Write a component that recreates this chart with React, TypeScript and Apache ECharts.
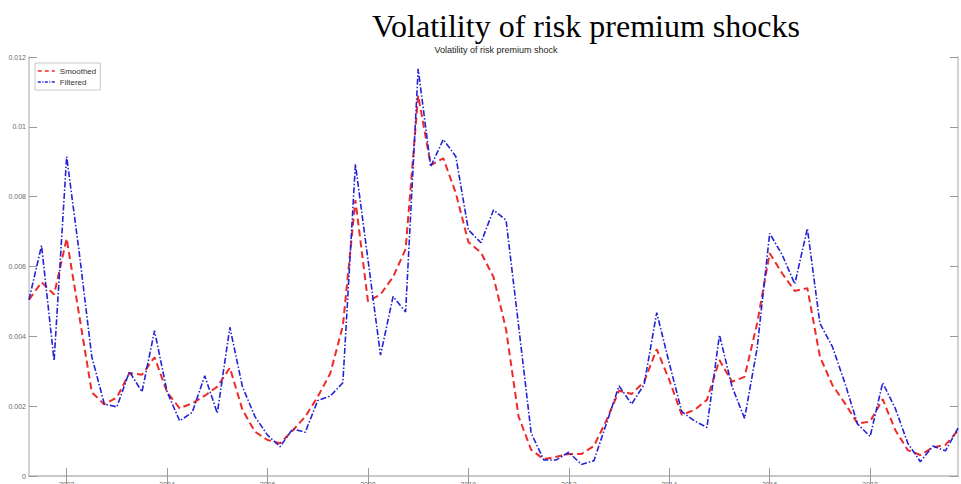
import React, { useEffect, useRef } from "react";
import * as echarts from "echarts";

// Quarterly observations, 2001Q2 .. 2019Q4
const quarters: string[] = [
  "2001Q2", "2001Q3", "2001Q4",
  "2002Q1", "2002Q2", "2002Q3", "2002Q4",
  "2003Q1", "2003Q2", "2003Q3", "2003Q4",
  "2004Q1", "2004Q2", "2004Q3", "2004Q4",
  "2005Q1", "2005Q2", "2005Q3", "2005Q4",
  "2006Q1", "2006Q2", "2006Q3", "2006Q4",
  "2007Q1", "2007Q2", "2007Q3", "2007Q4",
  "2008Q1", "2008Q2", "2008Q3", "2008Q4",
  "2009Q1", "2009Q2", "2009Q3", "2009Q4",
  "2010Q1", "2010Q2", "2010Q3", "2010Q4",
  "2011Q1", "2011Q2", "2011Q3", "2011Q4",
  "2012Q1", "2012Q2", "2012Q3", "2012Q4",
  "2013Q1", "2013Q2", "2013Q3", "2013Q4",
  "2014Q1", "2014Q2", "2014Q3", "2014Q4",
  "2015Q1", "2015Q2", "2015Q3", "2015Q4",
  "2016Q1", "2016Q2", "2016Q3", "2016Q4",
  "2017Q1", "2017Q2", "2017Q3", "2017Q4",
  "2018Q1", "2018Q2", "2018Q3", "2018Q4",
  "2019Q1", "2019Q2", "2019Q3", "2019Q4",
];

const xTickLabels: string[] = ["2002", "2004", "2006", "2008", "2010", "2012", "2014", "2016", "2018"];

const smoothed: number[] = [
  0.00505, 0.00555, 0.0052,
  0.0068, 0.0046, 0.0024, 0.00205,
  0.00225, 0.00295, 0.0029, 0.0034,
  0.0024, 0.00194, 0.00208, 0.0023,
  0.00256, 0.0031, 0.0019, 0.00127,
  0.00103, 0.00094, 0.0013, 0.0017,
  0.00227, 0.00294, 0.0043, 0.0079,
  0.0050, 0.0052, 0.0057, 0.0065,
  0.0109, 0.0089, 0.0091, 0.0081,
  0.0067, 0.0064, 0.0057, 0.0042,
  0.0017, 0.00075, 0.00048, 0.00055,
  0.00063, 0.00063, 0.00086, 0.0016,
  0.00244, 0.00235, 0.0027, 0.00363,
  0.00275, 0.00175, 0.00189, 0.00218,
  0.00332, 0.0027, 0.00284, 0.00437,
  0.00638, 0.0058, 0.0053, 0.00538,
  0.00342, 0.0026, 0.00208, 0.0015,
  0.00156, 0.0022, 0.00132, 0.00074,
  0.0006, 0.00082, 0.00089, 0.0013,
];

const filtered: number[] = [
  0.00505, 0.0066, 0.0033,
  0.00915, 0.0064, 0.00342, 0.00206,
  0.00198, 0.00299, 0.00241, 0.00416,
  0.00241, 0.00158, 0.00182, 0.00287,
  0.0018, 0.00426, 0.00256, 0.0017,
  0.00117, 0.00084, 0.00135, 0.00125,
  0.00216, 0.00229, 0.00267, 0.00893,
  0.0062, 0.00346, 0.00514, 0.0047,
  0.01166, 0.00886, 0.00964, 0.00915,
  0.00705, 0.00668, 0.00762, 0.00733,
  0.0043, 0.00123, 0.00046, 0.00046,
  0.00068, 0.00033, 0.00044, 0.00151,
  0.00258, 0.00206, 0.00262, 0.00468,
  0.00323, 0.00184, 0.00158, 0.00139,
  0.00404, 0.00256, 0.00165, 0.00366,
  0.00695, 0.00633, 0.0055, 0.00709,
  0.00437, 0.0037, 0.00265, 0.00149,
  0.00113, 0.00267, 0.00194, 0.00094,
  0.00041, 0.00086, 0.00072, 0.00137,
];

const seriesNames: string[] = ["Smoothed", "Filtered"];
const mainTitle = "Volatility of risk premium shocks";
const axesTitle = "Volatility of risk premium shock";

const isTick = (q: string) => q.endsWith("Q1") && xTickLabels.includes(q.slice(0, 4));

export default function App() {
  const ref = useRef<HTMLDivElement>(null);

  useEffect(() => {
    if (!ref.current) return;
    const chart = echarts.init(ref.current, null, { renderer: "svg" });
    const frame = "#c4c4c4";
    const tickColor = "#9a9a9a";
    const labelColor = "#6a6a6a";
    const red = "#ee2a2a";
    const blue = "#2222d8";
    const redDash = [7, 4];
    const blueDash = [6, 2, 1.5, 2];
    const xTickInterval = (index: number) => isTick(quarters[index]);

    chart.setOption({
      animation: false,
      backgroundColor: "#ffffff",
      grid: { left: 29, right: 3, top: 57, bottom: 8, containLabel: false, outerBoundsMode: "none" },
      graphic: [
        {
          type: "text",
          x: 586,
          y: 26,
          style: {
            text: mainTitle,
            font: '32px "Liberation Serif", "Times New Roman", serif',
            fill: "#000000",
            textAlign: "center",
            textVerticalAlign: "middle",
          },
        },
        {
          type: "text",
          x: 496,
          y: 50,
          style: {
            text: axesTitle,
            font: '9px "Liberation Sans", Arial, sans-serif',
            fill: "#222222",
            textAlign: "center",
            textVerticalAlign: "middle",
          },
        },
      ],
      legend: {
        data: [
          {
            name: seriesNames[0],
            itemStyle: { color: "transparent", borderColor: "transparent", opacity: 0 },
            lineStyle: { color: red, width: 1.6, type: [4, 3] },
          },
          {
            name: seriesNames[1],
            itemStyle: { color: "transparent", borderColor: "transparent", opacity: 0 },
            lineStyle: { color: blue, width: 1.4, type: [3, 1.5, 1, 1.5] },
          },
        ],
        orient: "vertical",
        left: 35,
        top: 63,
        itemWidth: 17,
        itemHeight: 8,
        itemGap: 3,
        padding: [4, 4, 4, 2],
        backgroundColor: "#ffffff",
        borderColor: "#c8c8c8",
        borderWidth: 1,
        itemStyle: { color: "transparent", borderColor: "transparent", opacity: 0 },
        textStyle: { fontSize: 8, color: "#333333", fontFamily: "Liberation Sans, Arial, sans-serif" },
      },
      xAxis: [
        {
          type: "category",
          data: quarters,
          boundaryGap: false,
          position: "bottom",
          axisLine: { show: true, lineStyle: { color: frame, width: 1.5 } },
          axisTick: { show: true, inside: true, length: 8, interval: xTickInterval, lineStyle: { color: tickColor } },
          axisLabel: {
            show: true,
            interval: xTickInterval,
            formatter: (v: string) => v.slice(0, 4),
            fontSize: 7,
            color: labelColor,
            margin: 5,
            fontFamily: "Liberation Sans, Arial, sans-serif",
          },
          splitLine: { show: false },
        },
        {
          type: "category",
          data: quarters,
          boundaryGap: false,
          position: "top",
          axisLine: { show: true, lineStyle: { color: frame, width: 1.5 } },
          axisTick: { show: true, inside: true, length: 8, interval: xTickInterval, lineStyle: { color: tickColor } },
          axisLabel: { show: false },
          splitLine: { show: false },
        },
      ],
      yAxis: [
        {
          type: "value",
          min: 0,
          max: 0.012,
          interval: 0.002,
          position: "left",
          axisLine: { show: true, lineStyle: { color: frame, width: 1.5 } },
          axisTick: { show: true, inside: true, length: 8, lineStyle: { color: tickColor } },
          axisLabel: {
            fontSize: 7,
            color: labelColor,
            margin: 3,
            fontFamily: "Liberation Sans, Arial, sans-serif",
            formatter: (v: number) => String(Number(v.toFixed(3))),
          },
          splitLine: { show: false },
        },
        {
          type: "value",
          min: 0,
          max: 0.012,
          interval: 0.002,
          position: "right",
          axisLine: { show: true, lineStyle: { color: frame, width: 1.5 } },
          axisTick: { show: true, inside: true, length: 8, lineStyle: { color: tickColor } },
          axisLabel: { show: false },
          splitLine: { show: false },
        },
      ],
      series: [
        {
          name: seriesNames[0],
          type: "line",
          data: smoothed,
          xAxisIndex: 0,
          yAxisIndex: 0,
          symbol: "none",
          color: red,
          lineStyle: { color: red, width: 2, type: redDash },
          z: 2,
        },
        {
          name: seriesNames[1],
          type: "line",
          data: filtered,
          xAxisIndex: 0,
          yAxisIndex: 0,
          symbol: "none",
          color: blue,
          lineStyle: { color: blue, width: 1.6, type: blueDash },
          z: 3,
        },
      ],
    });

    return () => chart.dispose();
  }, []);

  return (
    <div
      ref={ref}
      style={{ position: "absolute", left: 0, top: 0, width: 961, height: 484 }}
    />
  );
}
